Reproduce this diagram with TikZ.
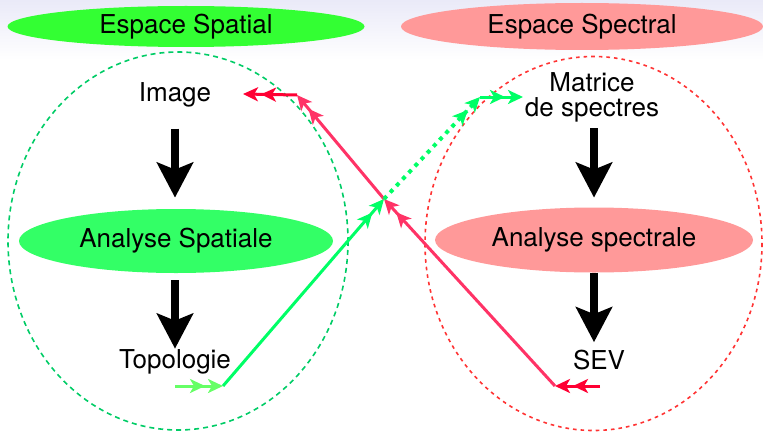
\documentclass[tikz,border=0pt]{standalone}
\usepackage{fontspec}
\setmainfont{TeX Gyre Heros}
\usepackage{tikz}
\usetikzlibrary{shapes.geometric}
\usetikzlibrary{arrows.meta}
\definecolor{spatfill}{RGB}{51,255,102}
\definecolor{headgreen}{RGB}{51,255,51}
\definecolor{specfill}{RGB}{255,153,153}
\definecolor{spatdash}{RGB}{0,204,102}
\definecolor{specdash}{RGB}{255,51,51}
\definecolor{redflow}{RGB}{255,51,102}
\definecolor{redtip}{RGB}{255,0,51}
\definecolor{greenflow}{RGB}{0,255,102}
\definecolor{greentip}{RGB}{102,255,102}
\definecolor{skytop}{RGB}{234,234,248}

\begin{document}
\begin{tikzpicture}[x=0.5pt, y=-0.5pt,
    every node/.style={font=\fontsize{13}{12.5}\selectfont, inner sep=0pt},
    blob/.style={ellipse, inner sep=0pt},
    bigarrow/.style={-{Stealth[length=17.5pt,width=18pt,inset=3.5pt]}, line width=4.4pt},
    flow/.style={-{Stealth[length=7.5pt,width=7pt,inset=2pt,sep=1.5pt]Stealth[length=7.5pt,width=7pt,inset=2pt]}, line width=1.5pt},
    ring/.style={line width=0.8pt}]
                \useasboundingbox (0,0) rectangle (763,433);
                \shade[top color=skytop, bottom color=white] (0,0) rectangle (763,60);

                % Espace Spatial
                \draw[ring, spatdash, dash pattern=on 2.5pt off 2pt] (178,241) ellipse [x radius=170, y radius=189];
                \node[blob, fill=headgreen, minimum width=178.5pt, minimum height=20.5pt] (espspat) at (186,26.5) {Espace Spatial};
                \node[anchor=base] (img) at (175,101) {Image};
                \node[blob, fill=spatfill, minimum width=157pt, minimum height=32pt] (anaspat) at (176,241) {Analyse Spatiale};
                \node[anchor=base] (topo) at (175,368) {Topologie};
                \draw[bigarrow, shorten <=10.75pt, shorten >=5.5pt] (img.south) -- (img.south |- anaspat.north);
                \draw[bigarrow, shorten <=3.5pt] (anaspat.south -| topo.north) -- (topo.north);

                % Espace Spectral
                \draw[ring, specdash, dash pattern=on 1.8pt off 2pt] (593.5,243.5) ellipse [x radius=168.5, y radius=187];
                \node[blob, fill=specfill, minimum width=181pt, minimum height=23.5pt] (espspec) at (582,26.5) {Espace Spectral};
                \node[align=center] (mat) at (592,97.5) {Matrice\\de spectres};
                \node[blob, fill=specfill, minimum width=159pt, minimum height=32.5pt] (anaspec) at (594,240) {Analyse spectrale};
                \node[anchor=base] (sev) at (599,369) {SEV};
                \draw[bigarrow, shorten <=2.75pt, shorten >=4.75pt] (anaspec.north |- mat.south) -- (anaspec.north);
                \draw[bigarrow, shorten >=3.5pt] (anaspec.south) -- (anaspec.south |- sev.north);

                % Passage
                \coordinate (cross) at (384,199);
                \coordinate (topoL) at (175,386);
                \coordinate (topoR) at (223,386);
                \coordinate (matL) at (480,97);
                \coordinate (matR) at (523,97);
                \coordinate (sevR) at (600,386);
                \coordinate (sevL) at (555,386);
                \coordinate (imgR) at (297,95);
                \coordinate (imgL) at (243,94);
                \draw[flow, redtip] (sevR) -- (sevL);
                \draw[flow, redflow] (sevL) -- (cross);
                \draw[flow, redflow] (cross) -- (imgR);
                \draw[flow, redtip] (imgR) -- (imgL);
                \draw[flow, greentip] (topoL) -- (topoR);
                \draw[flow, greenflow] (topoR) -- (cross);
                \draw[flow, greenflow, line width=2pt, dash pattern=on 2pt off 2.5pt] (cross) -- (matL);
                \draw[flow, greenflow] (matL) -- (matR);
            \end{tikzpicture}
\end{document}
